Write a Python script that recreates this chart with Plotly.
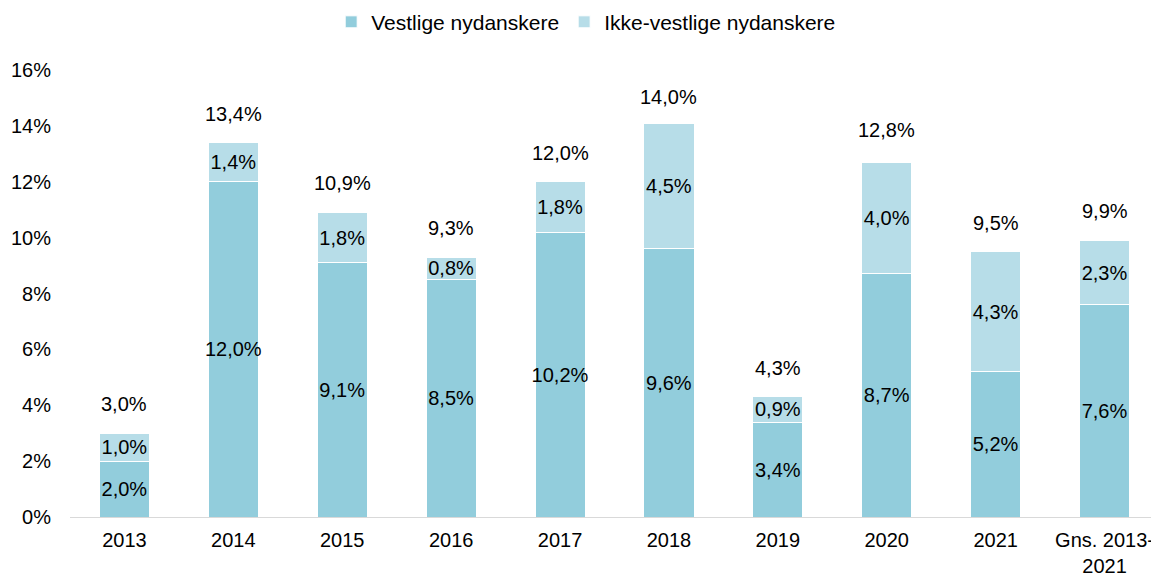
import plotly.graph_objects as go

categories = ["2013", "2014", "2015", "2016", "2017", "2018", "2019", "2020", "2021", "Gns. 2013-<br>2021"]
vestlige = [2.0, 12.0, 9.1, 8.5, 10.2, 9.6, 3.4, 8.7, 5.2, 7.6]
ikke_vestlige = [1.0, 1.4, 1.8, 0.8, 1.8, 4.5, 0.9, 4.0, 4.3, 2.3]
totals = [3.0, 13.4, 10.9, 9.3, 12.0, 14.0, 4.3, 12.8, 9.5, 9.9]

def fmt(v):
    return f"{v:.1f}".replace(".", ",") + "%"

FONT = "Liberation Sans, Arial, sans-serif"
FS = 20
fig = go.Figure()
fig.add_trace(go.Bar(
    name="Vestlige nydanskere", x=categories, y=vestlige,
    marker=dict(color="#92CDDC", line=dict(color="white", width=1)),
    text=[fmt(v) for v in vestlige], textposition="inside", insidetextanchor="middle",
    textangle=0, constraintext="none",
    textfont=dict(size=FS, color="black", family=FONT),
))
fig.add_trace(go.Bar(
    name="Ikke-vestlige nydanskere", x=categories, y=ikke_vestlige,
    marker=dict(color="#B7DDE8", line=dict(color="white", width=1)),
    text=[fmt(v) for v in ikke_vestlige], textposition="inside", insidetextanchor="middle",
    textangle=0, constraintext="none",
    textfont=dict(size=FS, color="black", family=FONT),
))
for i, t in enumerate(totals):
    fig.add_annotation(x=i, xref="x", y=t, yref="y", text=fmt(t), showarrow=False,
                       yanchor="middle", yshift=29,
                       font=dict(size=FS, color="black", family=FONT))

fig.update_layout(
    barmode="stack", bargap=0.54,
    width=1151, height=566,
    margin=dict(l=62, r=0, t=62, b=57, autoexpand=False),
    plot_bgcolor="white", paper_bgcolor="white",
    font=dict(family=FONT, size=FS, color="black"),
    legend=dict(orientation="h", x=0.474, xanchor="center", y=1.107,
                yanchor="middle", font=dict(size=21), traceorder="normal"),
    showlegend=True,
)
fig.update_xaxes(type="category", categoryorder="array", categoryarray=categories,
                 showline=True, linecolor="#D9D9D9", linewidth=1,
                 ticks="outside", ticklen=5, tickcolor="white",
                 tickfont=dict(size=FS))
fig.update_yaxes(range=[0, 16], dtick=2, ticksuffix="%", showgrid=False, zeroline=False,
                 showline=False, ticks="outside", ticklen=14, tickcolor="white",
                 tickfont=dict(size=FS))
fig.write_html("out.html")
